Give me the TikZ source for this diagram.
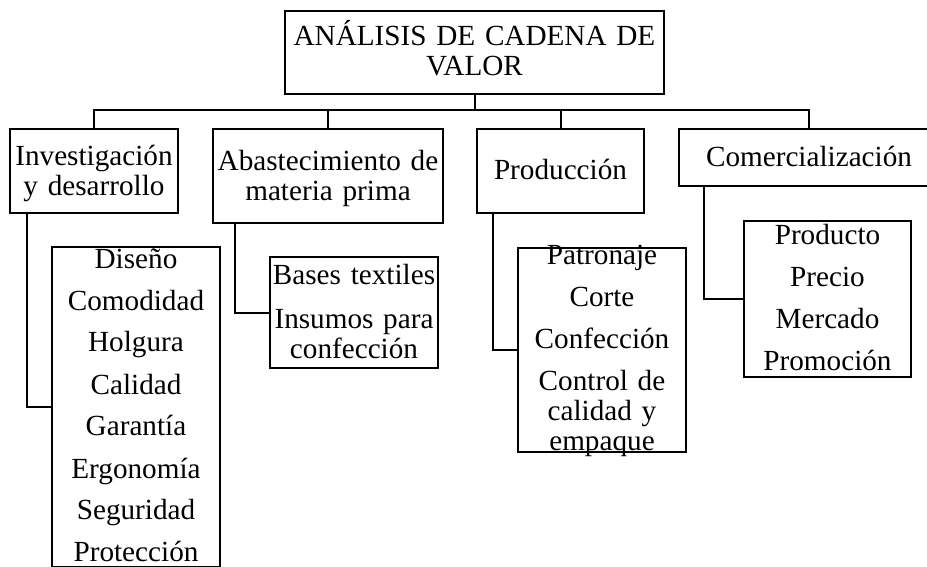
\documentclass[tikz,border=0pt]{standalone}
\usepackage{fontspec}
\setmainfont{Liberation Serif}
\usepackage{tikz}
\usetikzlibrary{calc, positioning}

\begin{document}
\begin{tikzpicture}[
  % Pixel grid of the layout
  x=0.5pt,
  y=-0.5pt,
  font=\fontsize{14.6}{15}\selectfont,
  line width=1pt,
  box/.style={draw, anchor=north west, inner sep=0pt, align=center}
]
  \useasboundingbox (0,0) rectangle (927,567);

  % Top box
  \node[box, text width=189.5pt, text height=17.5pt, text depth=24pt] (cadena) at (284,10) {ANÁLISIS DE CADENA DE\\ VALOR};

  % Main activities
  \node[box, text width=84pt, text height=18.5pt, text depth=23.5pt] (invest) at (9,128) {Investigación\\ y desarrollo};
  \node[box, text width=115pt, text height=20.5pt, text depth=26.5pt] (abast) at (212,128) {Abastecimiento de\\ materia prima};
  \node[box, text width=83.5pt, text height=25.5pt, text depth=16.5pt] (produc) at (476,128) {Producción};
  \node[box, text width=130pt, text height=19pt, text depth=9.5pt] (comerc) at (678,128) {Comercialización};

  % Detail lists
  \node[box, text width=84pt, text height=10.5pt, text depth=149.5pt] (idlist) at (51,246) {Diseño\\[6pt] Comodidad\\[6pt] Holgura\\[6pt] Calidad\\[6pt] Garantía\\[6pt] Ergonomía\\[6pt] Seguridad\\[6pt] Protección};
  \node[box, text width=84pt, text height=13.5pt, text depth=42pt] (mplist) at (269,256) {Bases textiles\\[7pt] Insumos para\\ confección};
  \node[box, text width=84pt, text height=8pt, text depth=94pt] (prlist) at (517,247) {Patronaje\\[6pt] Corte\\[6pt] Confección\\[6pt] Control de\\ calidad y\\ empaque};
  \node[box, text width=83.5pt, text height=11.5pt, text depth=66.5pt] (cmlist) at (743,220) {Producto\\[6pt] Precio\\[6pt] Mercado\\[6pt] Promoción};

  % Bus line under the top box
  \coordinate (bus) at (0,110);
  \draw (cadena.south) -- (cadena.south |- bus);
  \draw (invest.north) |- (bus -| comerc.north) -- (comerc.north);
  \foreach \n in {abast, produc}
    \draw (\n.north) -- (\n.north |- bus);

  % Elbows down to the lists
  \draw ([xshift=9pt]invest.south west) |- (idlist.west);
  \draw ([xshift=11.5pt]abast.south west) |- (mplist.west);
  \draw ([xshift=8.5pt]produc.south west) |- (prlist.west);
  \draw ([xshift=13pt]comerc.south west) |- (cmlist.west);
\end{tikzpicture}
\end{document}
